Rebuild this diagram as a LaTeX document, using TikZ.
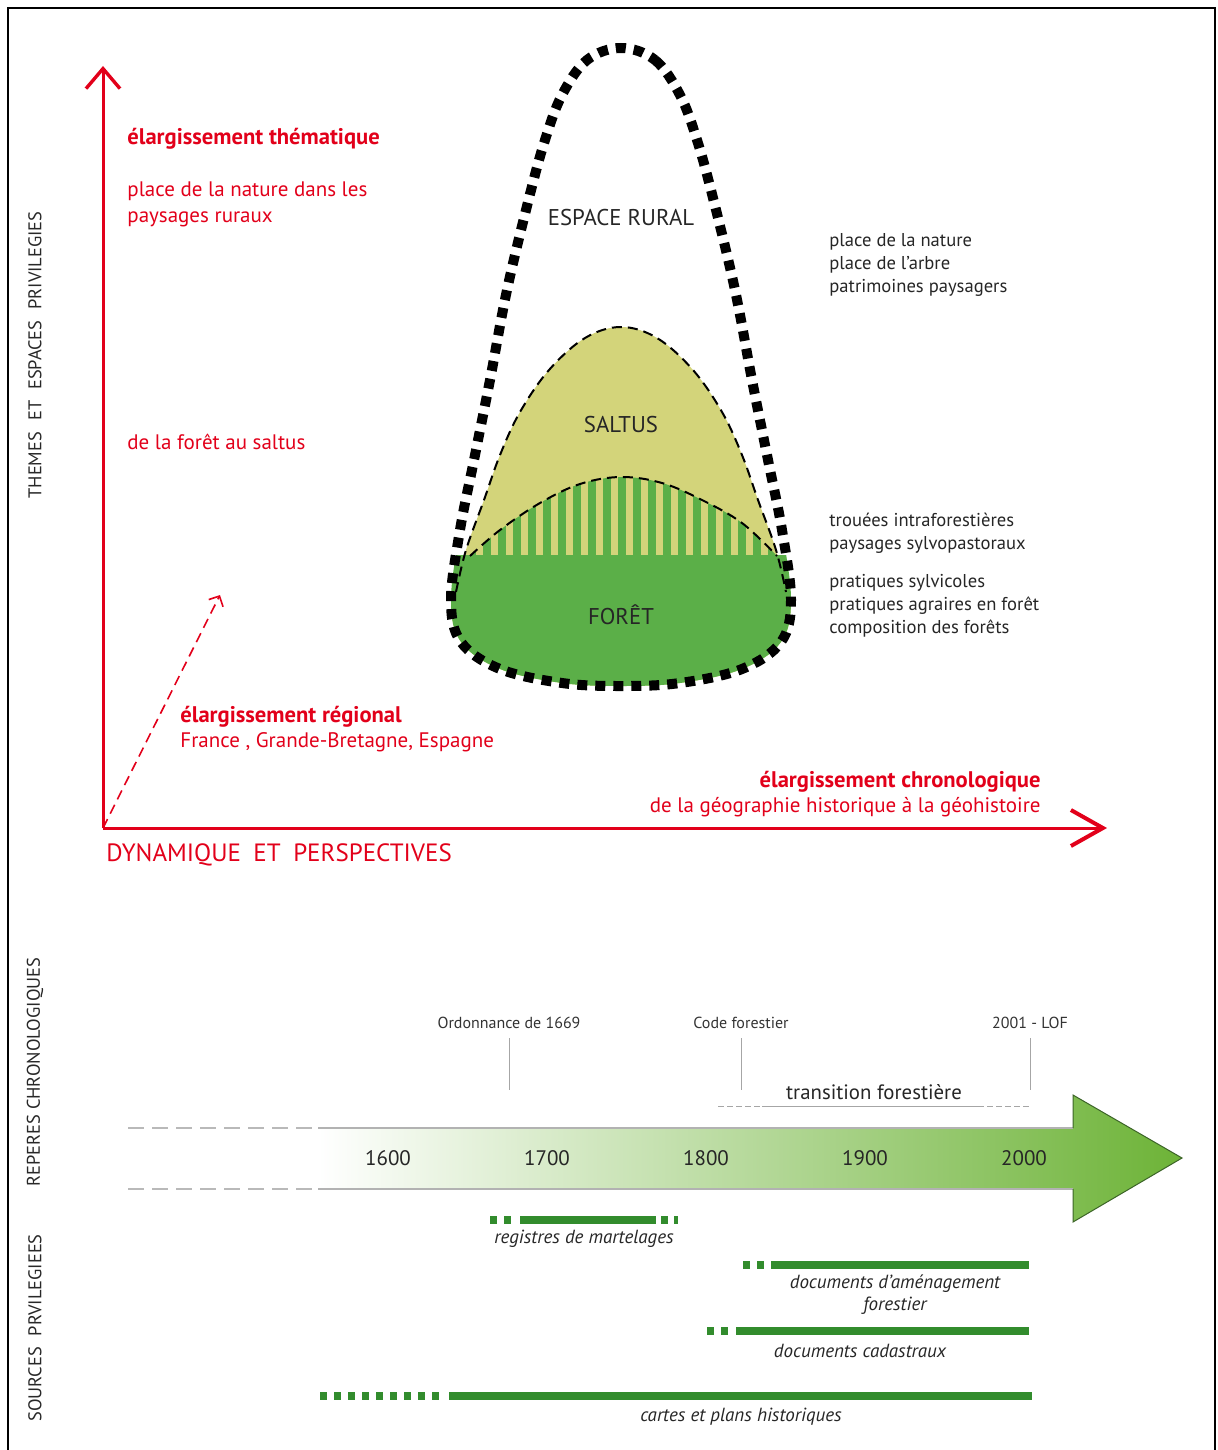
\documentclass[tikz,border=0pt]{standalone}
\usepackage{fontspec}
\setmainfont{PT Sans}
\usetikzlibrary{arrows.meta, positioning, calc}

\definecolor{axisred}{RGB}{226,0,26}
\definecolor{saltusyellow}{RGB}{211,212,122}
\definecolor{foretgreen}{RGB}{91,175,72}
\definecolor{srcgreen}{RGB}{50,140,45}
\definecolor{timegreen}{RGB}{109,179,55}
\definecolor{tipgreen}{RGB}{60,100,40}
\definecolor{labelgray}{RGB}{40,40,40}

\tikzset{
  axisline/.style={line width=1.5pt, axisred},
  redbold/.style={font=\fontsize{11.3}{13}\selectfont\bfseries, text=axisred, inner sep=0pt},
  redtext/.style={font=\fontsize{10.5}{13}\selectfont, text=axisred, align=left, inner sep=0pt},
  sidetitle/.style={rotate=90, font=\fontsize{9.2}{11}\selectfont, text=labelgray, inner sep=0pt},
  zonelabel/.style={font=\fontsize{11.4}{13}\selectfont, text=black!85, inner sep=0pt},
  themetext/.style={font=\fontsize{9.3}{11.5}\selectfont, text=black!85, align=left, anchor=west, inner sep=0pt},
  eventlabel/.style={font=\fontsize{8}{10}\selectfont, text=black!80, inner sep=0pt},
  eventtick/.style={gray!70, line width=0.4pt},
  yearlabel/.style={font=\fontsize{10.5}{12}\selectfont, text=black!85, inner sep=0pt},
  srcbar/.style={srcgreen, line width=4pt},
  srclabel/.style={font=\fontsize{9.5}{11}\selectfont\itshape, text=black!85, align=center, inner sep=0pt},
  thindash/.style={black, line width=1pt, dash pattern=on 5pt off 3pt},
  ruraldots/.style={black, line width=5pt, dash pattern=on 5pt off 4pt},
}

\begin{document}
\begin{tikzpicture}[x=0.5pt, y=-0.5pt]
  \useasboundingbox (0,0) rectangle (1217,1450);

  % frame
  \draw[line width=1pt] (8,1452) -- (8,8) -- (1215,8) -- (1215,1452);

  % ---- axes ----
  \coordinate (origin) at (103,828);
  \coordinate (ytop) at (103,66);
  \coordinate (xend) at (1107,828);
  \coordinate (regiontip) at (220,595);
  \draw[axisline, -{Straight Barb[length=10pt, width=17pt, line width=1.7pt]}] (origin) -- (ytop);
  \draw[axisline, -{Straight Barb[length=16pt, width=18pt, line width=2pt]}] (origin) -- (xend);
  \draw[axisred, line width=0.8pt, dash pattern=on 5pt off 3pt,
        -{Straight Barb[length=4pt, width=8pt]}] (origin) -- (regiontip);

  % side titles
  \node[sidetitle] (themes) at (35,355) {THEMES\hspace{0.6em}ET\hspace{0.6em}ESPACES\hspace{0.6em}PRIVILEGIES};
  \node[sidetitle] (reperes) at (35,1072) {REPERES CHRONOLOGIQUES};
  \node[sidetitle] (sources) at (35,1328) {SOURCES\hspace{0.6em}PRVILEGIEES};

  % red texts
  \node[redbold, anchor=west] (thematique) at (127,139) {élargissement thématique};
  \node[redtext, anchor=west] (placenature) at (127,204) {place de la nature dans les\\paysages ruraux};
  \node[redtext, anchor=west] (foretsaltus) at (127,442) {de la forêt au saltus};
  \node[redbold, anchor=west] (regional) at (180,717) {élargissement régional};
  \node[redtext, anchor=west] (pays) at (180,742) {France , Grande-Bretagne, Espagne};
  \node[redbold, anchor=east] (chrono) at (1041,782) {élargissement chronologique};
  \node[redtext, anchor=east] (geohist) at (1041,807) {de la géographie historique à la géohistoire};
  \node[redtext, font=\fontsize{12.5}{14}\selectfont, anchor=west] (dynamique) at (106,855)
    {DYNAMIQUE\hspace{0.5em}ET\hspace{0.5em}PERSPECTIVES};

  % ---- nested zones ----
  \path[save path=\ruralpath] plot[smooth cycle, tension=0.6] coordinates {
    (621,48) (655,60) (680,95) (697,140) (713,198) (735,290) (752,380) (768,460) (782,530)
    (791,600) (781,642) (742,669) (680,683) (621,686) (562,683) (500,669) (461,642)
    (451,600) (460,530) (474,460) (490,380) (507,290) (529,198) (545,140) (562,95) (587,60)};

  \begin{scope}
    \clip[use path=\ruralpath];
    \fill[saltusyellow] plot[smooth, tension=0.6] coordinates {
      (450,610) (456,592) (466,550) (484,500) (500,455) (520,412) (549,370) (585,338)
      (621,327) (657,338) (693,370) (722,412) (742,455) (758,500) (776,550) (786,592) (792,610)}
      -- (800,700) -- (440,700) -- cycle;
    \begin{scope}
      \clip plot[smooth, tension=0.6] coordinates {
        (470,556) (500,530) (540,503) (580,484) (621,477) (662,483) (702,500) (742,523) (777,556)}
        -- cycle;
      \foreach \x in {472,487,...,772}
        \fill[foretgreen] ({\x-4},470) rectangle ({\x+4},560);
    \end{scope}
    \fill[foretgreen] (440,555) rectangle (800,700);
    \draw[thindash] plot[smooth, tension=0.6] coordinates {
      (456,592) (466,550) (484,500) (500,455) (520,412) (549,370) (585,338)
      (621,327) (657,338) (693,370) (722,412) (742,455) (758,500) (776,550) (786,592)};
    \draw[thindash] plot[smooth, tension=0.6] coordinates {
      (470,556) (500,530) (540,503) (580,484) (621,477) (662,483) (702,500) (742,523) (777,556)};
  \end{scope}
  \draw[ruraldots, use path=\ruralpath];

  \node[zonelabel] (rural) at (621,218) {ESPACE RURAL};
  \node[zonelabel] (saltus) at (621,425) {SALTUS};
  \node[zonelabel] (foret) at (621,615) {FORÊT};

  % themes on the right
  \node[themetext] (ruralthemes) at (829,264.5) {place de la nature\\place de l'arbre\\patrimoines paysagers};
  \node[themetext] (saltusthemes) at (829,533.5) {trouées intraforestières\\paysages sylvopastoraux};
  \node[themetext] (foretthemes) at (829,606) {pratiques sylvicoles\\pratiques agraires en forêt\\composition des forêts};

  % ---- timeline ----
  \shade[left color=white, right color=timegreen]
    (318,1128) -- (1073,1128) -- (1073,1095) -- (1182,1158) -- (1073,1222) -- (1073,1189) -- (318,1189) -- cycle;
  \draw[gray!60, line width=0.6pt] (318,1128) -- (1073,1128);
  \draw[gray!60, line width=0.6pt] (318,1189) -- (1073,1189);
  \draw[tipgreen, line width=0.5pt] (1073,1128) -- (1073,1095) -- (1182,1158) -- (1073,1222) -- (1073,1189);
  \draw[gray!55, line width=1pt, dash pattern=on 8pt off 4pt] (128,1128) -- (318,1128);
  \draw[gray!55, line width=1pt, dash pattern=on 8pt off 4pt] (128,1189) -- (318,1189);

  \foreach \yr [count=\i from 0] in {1600,1700,1800,1900,2000}
    \node[yearlabel] (y\yr) at ({388+159*\i},1158) {\yr};

  % events
  \node[eventlabel] (ordonnance) at (509,1023) {Ordonnance de 1669};
  \node[eventlabel] (codeforestier) at (741,1023) {Code forestier};
  \node[eventlabel] (lof) at (1030,1023) {2001 - LOF};
  \coordinate (ordonnance-end) at (509,1090);
  \coordinate (codeforestier-end) at (741,1090);
  \coordinate (lof-end) at (1030,1090);
  \foreach \ev in {ordonnance, codeforestier, lof}
    \draw[eventtick] (\ev.south) ++(0,9) -- (\ev-end);

  \node[font=\fontsize{10.4}{12}\selectfont, text=black!85, inner sep=0pt] (transition) at (874,1092) {transition forestière};
  \draw[gray!70, line width=0.5pt, dash pattern=on 3pt off 1.5pt] (718,1106) -- (762,1106);
  \draw[gray!70, line width=0.5pt] (762,1106) -- (978,1106);
  \draw[gray!70, line width=0.5pt, dash pattern=on 3pt off 1.5pt] (978,1106) -- (1030,1106);

  % ---- sources ----
  \draw[srcbar] (490,1220) -- (497,1220)  (504,1220) -- (511,1220)  (520,1220) -- (656,1220)
                (661,1220) -- (668,1220)  (674,1220) -- (678,1220);
  \node[srclabel] (martelages) at (584,1239) {registres de martelages};

  \draw[srcbar] (743,1265) -- (750,1265)  (757,1265) -- (764,1265)  (771,1265) -- (1029,1265);
  \node[srclabel] (amenagement) at (895,1295) {documents d'aménagement\\forestier};

  \draw[srcbar] (707,1331) -- (714,1331)  (721,1331) -- (728,1331)  (736,1331) -- (1029,1331);
  \node[srclabel] (cadastraux) at (860,1351) {documents cadastraux};

  \draw[srcbar, dash pattern=on 3.5pt off 3.5pt] (320,1396) -- (443,1396);
  \draw[srcbar] (449,1396) -- (1032,1396);
  \node[srclabel] (cartes) at (741,1417) {cartes et plans historiques};
\end{tikzpicture}
\end{document}
